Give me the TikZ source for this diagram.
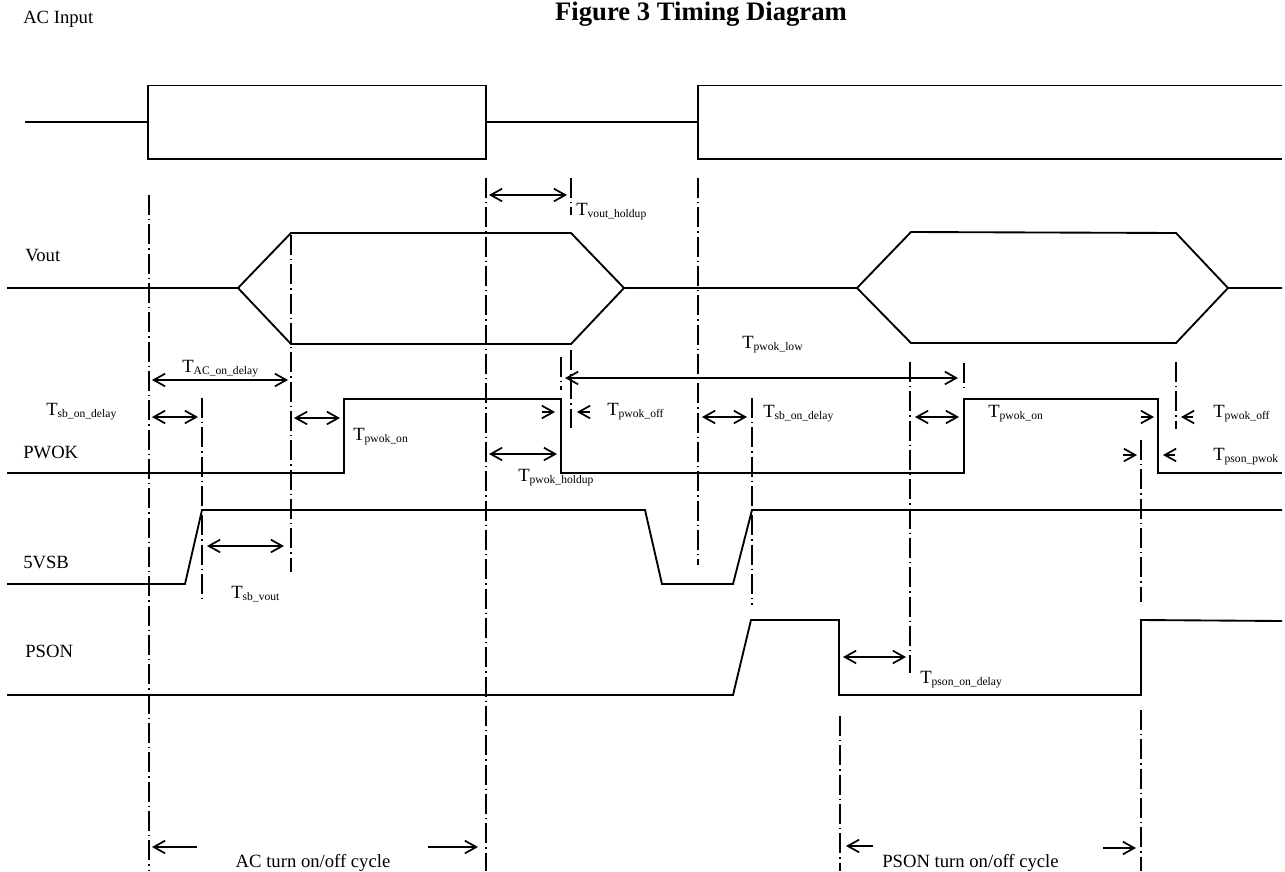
\documentclass[tikz,border=0pt]{standalone}
\usepackage{fontspec}
\setmainfont{Liberation Serif}
\usetikzlibrary{arrows.meta}

\newcommand{\tlab}[1]{T\raisebox{-1.5pt}{\fontsize{8.7pt}{9pt}\selectfont #1}}

\begin{document}
\begin{tikzpicture}[x=0.75pt,y=-0.75pt,
                    >={Straight Barb[length=8.5pt,width=9.5pt]},
                    wave/.style={line width=1.4pt},
                    guide/.style={line width=1.1pt,dash pattern=on 15pt off 3pt on 1pt off 3pt},
                    dim/.style={<->,line width=1.3pt},
                    one/.style={->,line width=1.3pt}]
\tikzstyle{every node}=[inner sep=0pt,anchor=base west,font=\fontsize{14pt}{16pt}\selectfont]
\clip (0,0) rectangle (1285,871);

\path
node (acin) at (23,23) {AC Input}
node[anchor=base,font=\fontsize{20pt}{22pt}\selectfont\bfseries] (title) at (701,20) {Figure 3 Timing Diagram}
node (vout) at (25,261) {Vout}
node (pwok) at (23,458) {PWOK}
node (vsb) at (23,568) {5VSB}
node (pson) at (25,657) {PSON}
node (tacon) at (182,372) {\tlab{AC\_on\_delay}}
node (tsbon1) at (46,415) {\tlab{sb\_on\_delay}}
node (tpwokon1) at (353,440) {\tlab{pwok\_on}}
node (tholdup) at (576,215) {\tlab{vout\_holdup}}
node (tpwoklow) at (742,348) {\tlab{pwok\_low}}
node (tpwokoff1) at (607,415) {\tlab{pwok\_off}}
node (tpwokhold) at (518,481) {\tlab{pwok\_holdup}}
node (tsbon2) at (763,417) {\tlab{sb\_on\_delay}}
node (tpwokon2) at (988,417) {\tlab{pwok\_on}}
node (tpwokoff2) at (1213,417) {\tlab{pwok\_off}}
node (tpsonpwok) at (1213,460) {\tlab{pson\_pwok}}
node (tsbvout) at (231,598) {\tlab{sb\_vout}}
node (tpsonon) at (920,683) {\tlab{pson\_on\_delay}}
node[anchor=base] (accycle) at (313,867) {AC turn on/off cycle}
node (psoncycle) at (882,867) {PSON turn on/off cycle};

% waveforms
\draw[wave] (25,122) -- (148,122) (148,85.5) rectangle (486,159)
            (486,122) -- (698,122)
            (1282,85.5) -- (698,85.5) -- (698,159) -- (1282,159);
\draw[wave] (7,288) -- (238,288) -- (291,233) -- (571,233) -- (624,288) -- (857,288)
            -- (911,232) -- (1176,233) -- (1228,288) -- (1282,288)
            (238,288) -- (291,344) -- (571,344) -- (624,288)
            (857,288) -- (911,343) -- (1176,343) -- (1228,288);
\draw[wave] (7,473) -- (344,473) -- (344,399) -- (561,399) -- (561,473) -- (964,473)
            -- (964,399) -- (1158,399) -- (1158,473) -- (1282,473);
\draw[wave] (7,584) -- (185,584) -- (202,510) -- (645,510) -- (662,584) -- (733,584)
            -- (752,510) -- (1282,510);
\draw[wave] (7,695) -- (733,695) -- (751,620) -- (839,620) -- (839,695) -- (1141,695)
            -- (1141,620) -- (1282,621);

% guides
\draw[guide] (149,195) -- (149,871)  (486,178) -- (486,871)  (698,178) -- (698,565)
             (291,235) -- (291,572)  (202,398) -- (202,603)
             (571,178) -- (571,215)  (571,350) -- (571,428)  (561,357) -- (561,390)
             (752,398) -- (752,605)  (910,362) -- (910,673)  (964,363) -- (964,390)
             (1176,362) -- (1176,429)  (1141,440) -- (1141,602)
             (1141,710) -- (1141,871)  (840,716) -- (840,871);

% dimension arrows
\draw[dim] (152,380) -- (288,380);
\draw[dim] (152,417) -- (198,417);
\draw[dim] (294,418) -- (340,418);
\draw[dim] (489,195) -- (567,195);
\draw[dim] (565,378) -- (958,378);
\draw[dim] (489,454) -- (557,454);
\draw[dim] (702,417) -- (747,417);
\draw[dim] (915,417) -- (959,417);
\draw[dim] (207,546) -- (284,546);
\draw[dim] (843,657) -- (906,657);
\draw[one] (542,412) -- (555,412);
\draw[one] (590,412) -- (577,412);
\draw[one] (1141,417) -- (1154,417);
\draw[one] (1193,417) -- (1181,417);
\draw[one] (1123,455) -- (1137,455);
\draw[one] (1175,455) -- (1163,455);
\draw[one] (197,847) -- (152,847);
\draw[one] (428,847) -- (478,847);
\draw[one] (873,846) -- (846,846);
\draw[one] (1103,848) -- (1136,848);
\end{tikzpicture}
\end{document}
